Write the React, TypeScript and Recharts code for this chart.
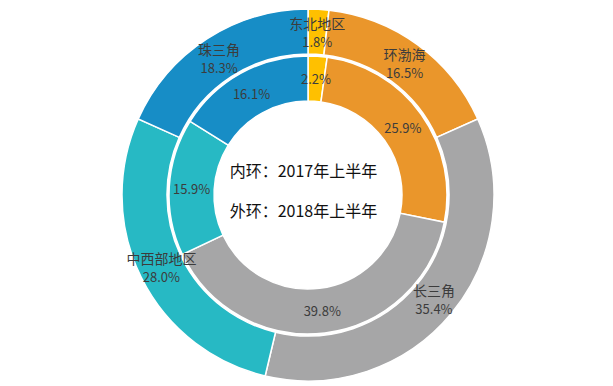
import React from 'react';
import { PieChart, Pie, Cell } from 'recharts';

const regions = ['东北地区', '环渤海', '长三角', '中西部地区', '珠三角'];
const share2018 = [1.8, 16.5, 35.4, 28.0, 18.3]; // outer ring
const share2017 = [2.2, 25.9, 39.8, 15.9, 16.1]; // inner ring
const COLORS = ['#FFC000', '#EA962B', '#A6A6A7', '#27B9C4', '#178DC6'];

const outerData = regions.map((r, i) => ({ name: r, value: share2018[i] }));
const innerData = regions.map((r, i) => ({ name: r, value: share2017[i] }));

const RAD = Math.PI / 180;
const FONT = '"Noto Sans CJK SC", "Noto Sans", sans-serif';

const midPoint = (cx: number, cy: number, midAngle: number, inner: number, outer: number) => {
  const r = (inner + outer) / 2;
  return { x: cx + r * Math.cos(-midAngle * RAD), y: cy + r * Math.sin(-midAngle * RAD) };
};

const outerLabel = (props: any) => {
  const { cx, cy, midAngle, innerRadius, outerRadius, index } = props;
  const { x, y } = midPoint(cx, cy, midAngle, innerRadius, outerRadius);
  return (
    <text x={x} y={y} textAnchor="middle" fill="#3c3c3c" style={{ fontFamily: FONT }}>
      <tspan x={x} dy={-3} fontSize={14}>{regions[index]}</tspan>
      <tspan x={x} dy={18} fontSize={13}>{share2018[index].toFixed(1)}%</tspan>
    </text>
  );
};

const innerLabel = (props: any) => {
  const { cx, cy, midAngle, innerRadius, outerRadius, index } = props;
  const { x, y } = midPoint(cx, cy, midAngle, innerRadius, outerRadius);
  return (
    <text x={x} y={y} textAnchor="middle" dominantBaseline="central" fill="#3c3c3c" fontSize={13} style={{ fontFamily: FONT }}>
      {share2017[index].toFixed(1)}%
    </text>
  );
};

export default function App() {
  return (
    <div style={{ position: 'relative', width: 613, height: 386, background: '#fff' }}>
      <style>{'body{margin:0}'}</style>
      <PieChart width={613} height={386}>
        <Pie
          data={innerData}
          dataKey="value"
          nameKey="name"
          cx={303}
          cy={190}
          innerRadius={94}
          outerRadius={139}
          startAngle={90}
          endAngle={-270}
          stroke="#fff"
          strokeWidth={1.5}
          labelLine={false}
          label={innerLabel}
          isAnimationActive={false}
        >
          {innerData.map((_, i) => (
            <Cell key={`in-${i}`} fill={COLORS[i]} />
          ))}
        </Pie>
        <Pie
          data={outerData}
          dataKey="value"
          nameKey="name"
          cx={303}
          cy={190}
          innerRadius={141}
          outerRadius={186}
          startAngle={90}
          endAngle={-270}
          stroke="#fff"
          strokeWidth={1.5}
          labelLine={false}
          label={outerLabel}
          isAnimationActive={false}
        >
          {outerData.map((_, i) => (
            <Cell key={`out-${i}`} fill={COLORS[i]} />
          ))}
        </Pie>
      </PieChart>
      <div
        style={{
          position: 'absolute',
          left: -3,
          width: 613,
          top: 150,
          textAlign: 'center',
          fontFamily: FONT,
          fontSize: 16,
          color: '#111',
          lineHeight: '40px',
        }}
      >
        <div>内环：2017年上半年</div>
        <div>外环：2018年上半年</div>
      </div>
    </div>
  );
}
